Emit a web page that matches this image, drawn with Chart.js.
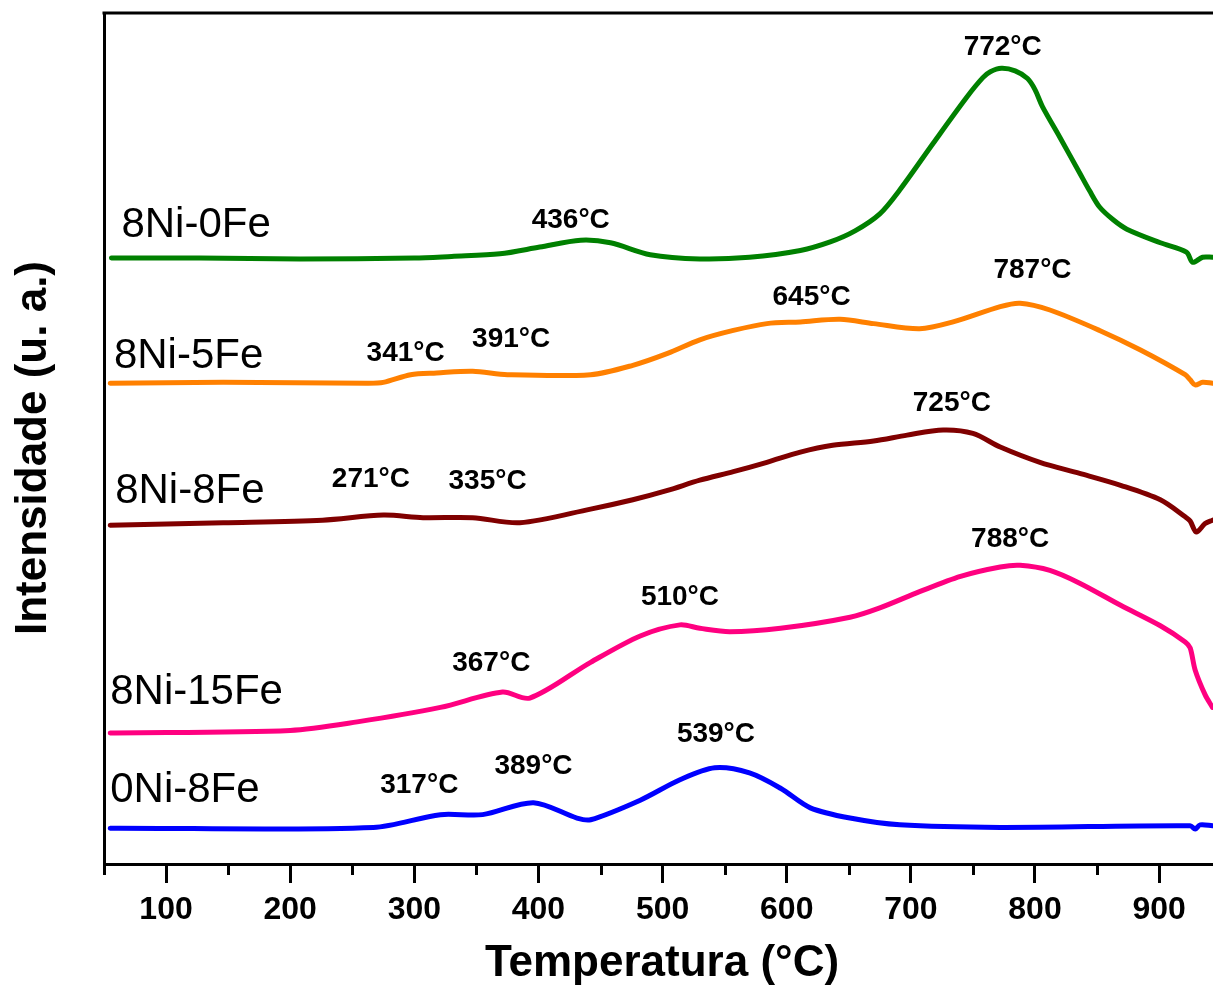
<!DOCTYPE html>
<html>
<head>
<meta charset="utf-8">
<script src="https://cdn.jsdelivr.net/npm/chart.js@4.4.0/dist/chart.umd.min.js"></script>
<style>
  html, body { margin: 0; padding: 0; background: #fff; overflow: hidden; }
  #wrap { width: 1213px; height: 988px; }
</style>
</head>
<body>
<div id="wrap"><canvas id="tpr" width="1213" height="988"></canvas></div>
<script>
'use strict'

// H2-TPR profiles: temperature (°C) and intensity (a.u., curves shifted vertically)
const temp8Ni0Fe = [56, 127, 208, 300, 330, 369, 401, 434, 458, 490, 530, 570, 611, 635, 655, 675, 691, 718, 745, 758, 764, 773, 784, 794, 800, 806, 820, 836, 844, 852, 863, 874, 901, 922, 927, 935, 943];
const int8Ni0Fe = [71.2, 71.2, 71.1, 71.2, 71.4, 71.7, 72.5, 73.3, 73.0, 71.6, 71.1, 71.3, 72.1, 73.1, 74.4, 76.4, 79.2, 84.7, 90.1, 92.4, 93.1, 93.5, 93.2, 92.3, 91.0, 89.0, 85.4, 81.2, 79.1, 77.2, 75.7, 74.6, 73.0, 71.9, 70.7, 71.3, 71.3];

const temp8Ni5Fe = [55, 146, 262, 275, 297, 318, 347, 375, 442, 476, 504, 530, 557, 584, 611, 643, 670, 707, 734, 772, 788, 812, 852, 885, 921, 925, 929, 935, 943];
const int8Ni5Fe = [56.5, 56.6, 56.5, 56.6, 57.5, 57.7, 57.9, 57.5, 57.5, 58.6, 60.0, 61.6, 62.7, 63.5, 63.7, 64.0, 63.5, 62.9, 63.7, 65.5, 65.9, 65.1, 62.7, 60.4, 57.5, 56.9, 56.3, 56.6, 56.5];

const temp8Ni8Fe = [55, 146, 226, 275, 307, 347, 385, 442, 476, 504, 530, 557, 584, 611, 637, 670, 697, 726, 750, 772, 804, 836, 869, 901, 921, 925, 930, 937, 943];
const int8Ni8Fe = [39.8, 40.1, 40.4, 41.0, 40.7, 40.7, 40.1, 41.7, 42.8, 43.9, 45.1, 46.1, 47.2, 48.4, 49.2, 49.7, 50.4, 51.0, 50.6, 49.0, 47.2, 45.9, 44.5, 42.8, 40.8, 40.3, 39.0, 40.0, 40.4];

const temp8Ni15Fe = [55, 200, 254, 321, 371, 393, 442, 482, 514, 530, 554, 595, 651, 675, 707, 740, 772, 788, 812, 836, 869, 901, 921, 925, 929, 937, 943];
const int8Ni15Fe = [15.4, 15.7, 16.7, 18.4, 20.2, 19.5, 23.7, 26.8, 28.1, 27.7, 27.3, 27.7, 29.0, 30.1, 32.0, 33.8, 34.9, 35.1, 34.5, 33.0, 30.4, 28.0, 26.1, 25.4, 22.8, 19.9, 18.4];

const temp0Ni8Fe = [55, 267, 321, 355, 396, 431, 442, 482, 514, 542, 570, 595, 619, 651, 691, 772, 925, 929, 933, 943];
const int0Ni8Fe = [4.2, 4.3, 5.8, 5.8, 7.2, 5.4, 5.2, 7.5, 9.9, 11.3, 10.7, 8.9, 6.6, 5.4, 4.6, 4.3, 4.5, 4.1, 4.6, 4.5];

const sampleNames = ['8Ni-0Fe', '8Ni-5Fe', '8Ni-8Fe', '8Ni-15Fe', '0Ni-8Fe'];
const sampleColors = ['#008000', '#ff8000', '#800000', '#ff0080', '#0000ff'];
// where each sample name sits (temperature, intensity)
const nameTemp = [64, 58, 59, 55, 55];
const nameLevel = [75.0, 59.6, 43.8, 20.2, 8.6];

// reduction peak maxima
const peakText = ['772°C', '436°C', '787°C', '645°C', '391°C', '341°C', '725°C', '271°C', '335°C', '788°C', '510°C', '367°C', '539°C', '389°C', '317°C'];
const peakTemp = [774, 426, 798, 620, 378, 293, 733, 265, 359, 780, 514, 362, 543, 396, 304];
const peakLevel = [96.0, 75.7, 69.8, 66.6, 61.7, 60.0, 54.1, 45.2, 45.0, 38.1, 31.3, 23.6, 15.3, 11.5, 9.3];

const majorTicks = [100, 200, 300, 400, 500, 600, 700, 800, 900];
const minorTicks = [50, 150, 250, 350, 450, 550, 650, 750, 850];

const FONT = '"Liberation Sans", Arial, sans-serif';

function toPoints(xs, ys) {
    return xs.map((t, i) => ({ x: t, y: ys[i] }));
}

const curves = [
    toPoints(temp8Ni0Fe, int8Ni0Fe),
    toPoints(temp8Ni5Fe, int8Ni5Fe),
    toPoints(temp8Ni8Fe, int8Ni8Fe),
    toPoints(temp8Ni15Fe, int8Ni15Fe),
    toPoints(temp0Ni8Fe, int0Ni8Fe)
];

// frame top, minor ticks and all the free text
const decorations = {
    id: 'decorations',
    afterDraw(chart) {
        const { ctx, chartArea, scales: { x, y } } = chart;
        ctx.save();
        ctx.strokeStyle = '#000';
        ctx.lineWidth = 3;
        ctx.beginPath();
        ctx.moveTo(chartArea.left - 1.5, chartArea.top);
        ctx.lineTo(chart.width, chartArea.top);
        minorTicks.forEach(v => {
            const px = Math.round(x.getPixelForValue(v)) + 0.5;
            ctx.moveTo(px, chartArea.bottom);
            ctx.lineTo(px, chartArea.bottom + 11);
        });
        ctx.stroke();

        ctx.fillStyle = '#000';
        ctx.textBaseline = 'middle';

        ctx.font = '42px ' + FONT;
        ctx.textAlign = 'left';
        sampleNames.forEach((n, i) => {
            ctx.fillText(n, x.getPixelForValue(nameTemp[i]), y.getPixelForValue(nameLevel[i]));
        });

        ctx.font = 'bold 28px ' + FONT;
        ctx.textAlign = 'center';
        peakText.forEach((t, i) => {
            ctx.fillText(t, x.getPixelForValue(peakTemp[i]), y.getPixelForValue(peakLevel[i]));
        });

        ctx.font = 'bold 44px ' + FONT;
        ctx.fillText('Temperatura (°C)', 662, 964);

        ctx.translate(34, 448);
        ctx.rotate(-Math.PI / 2);
        ctx.fillText('Intensidade (u. a.)', 0, 0);
        ctx.restore();
    }
};

const ctx = document.getElementById('tpr').getContext('2d');
const tprChart = new Chart(ctx, {
    type: 'line',
    data: {
        datasets: curves.map((pts, i) => ({
            label: sampleNames[i],
            data: pts,
            borderColor: sampleColors[i],
            borderWidth: 5,
            pointRadius: 0,
            fill: false,
            tension: 0.3,
            borderCapStyle: 'round',
            borderJoinStyle: 'round'
        }))
    },
    options: {
        responsive: false,
        devicePixelRatio: 1,
        animation: false,
        layout: { padding: { top: 13, right: 0, bottom: 0, left: 0 } },
        plugins: {
            legend: { display: false },
            tooltip: { enabled: false }
        },
        scales: {
            x: {
                type: 'linear',
                min: 50,
                max: 943.4,
                afterBuildTicks: scale => {
                    scale.ticks = majorTicks.map(v => ({ value: v }));
                },
                afterFit: scale => { scale.height = 124; },
                grid: {
                    drawOnChartArea: false,
                    drawTicks: true,
                    tickLength: 19,
                    tickWidth: 3,
                    tickColor: '#000'
                },
                border: { display: true, color: '#000', width: 3 },
                ticks: {
                    color: '#000',
                    padding: 8,
                    maxRotation: 0,
                    autoSkip: false,
                    font: { family: FONT, size: 32, weight: 'bold' }
                }
            },
            y: {
                min: 0,
                max: 100,
                afterFit: scale => { scale.width = 104; },
                grid: { drawOnChartArea: false, drawTicks: false },
                border: { display: true, color: '#000', width: 3 },
                ticks: { display: false }
            }
        }
    },
    plugins: [decorations]
});
</script>
</body>
</html>
